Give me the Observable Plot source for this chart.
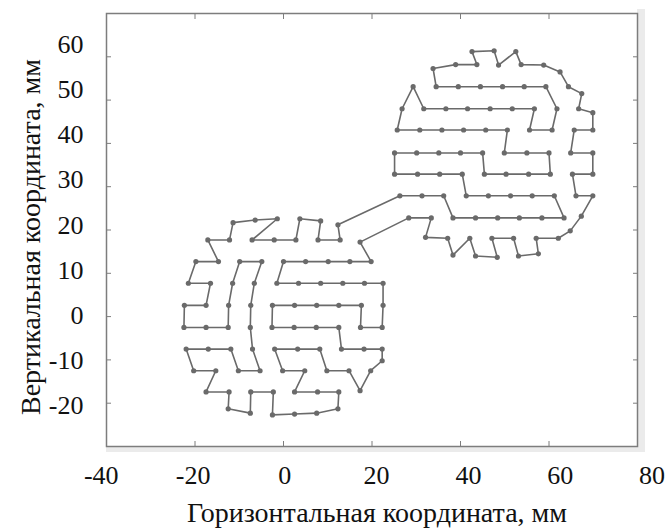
<!DOCTYPE html>
<html>
<head>
<meta charset="utf-8">
<script src="https://cdn.jsdelivr.net/npm/d3@7"></script>
<script src="https://cdn.jsdelivr.net/npm/@observablehq/plot@0.6"></script>
<style>
  html, body { margin: 0; padding: 0; background: #fff; }
  svg text { font-family: "Liberation Serif", "Times New Roman", serif; }
</style>
</head>
<body>
<div id="chart"></div>
<script>
// Lower (left) circular region, in path order
const lowerX = [12.3, 12.8, 7.8, 8.4, 3.7, 2.8, -2.1, -7.1, -1.4, -6.4,
  -11.4, -12.2, -17.1, -14.7, -19.8, -21.5, -16.5, -17.5, -22.4, -22.5,
  -17.5, -12.5, -12.4, -11.5, -9.9, -4.9, -6.6, -7.4, -7.5, -7.0,
  -5.3, -10.2, -11.9, -17.0, -22.0, -20.3, -15.3, -17.5, -12.3, -12.5,
  -7.5, -7.4, -2.3, -2.5, 2.5, 7.5, 12.3, 12.5, 7.7, 2.5,
  4.8, -0.2, -2.0, 3.2, 8.2, 9.8, 14.8, 17.3, 19.7, 22.3,
  22.3, 18.2, 13.1, 12.5, 7.4, 2.4, -2.6, -2.5, 2.5, 7.5,
  12.5, 17.6, 17.4, 22.3, 22.5, 22.5, 18.3, 13.4, 8.4, 3.4,
  -1.5, 0.0, 5.0, 10.1, 15.0, 19.8, 17.3];
const lowerY = [21.2, 17.7, 17.7, 22.1, 22.6, 17.7, 17.7, 17.7, 22.6, 22.3,
  21.7, 17.7, 17.7, 12.7, 12.7, 7.7, 7.7, 2.6, 2.6, -2.5,
  -2.5, -2.5, 2.6, 7.7, 12.7, 12.7, 7.7, 2.6, -2.5, -7.5,
  -12.5, -12.5, -7.5, -7.5, -7.5, -12.5, -12.5, -17.4, -17.4, -21.3,
  -22.3, -17.4, -17.4, -22.7, -22.5, -22.3, -21.3, -17.4, -17.4, -17.4,
  -12.5, -12.5, -7.5, -7.5, -7.5, -12.5, -12.5, -17.1, -12.5, -10.2,
  -7.5, -7.5, -7.5, -2.5, -2.5, -2.5, -2.5, 2.6, 2.6, 2.6,
  2.6, 2.6, -2.5, -2.5, 2.6, 7.7, 7.7, 7.7, 7.7, 7.7,
  7.7, 12.7, 12.7, 12.7, 12.7, 12.7, 17.2];

// Upper (right) circular region, in path order (from upper bridge end)
const upperX = [26.3, 31.3, 36.2, 38.3, 43.4, 48.4, 53.3, 58.4, 63.4, 61.2,
  56.2, 51.3, 46.3, 41.3, 40.4, 35.3, 30.3, 25.1, 25.1, 30.1,
  35.1, 40.0, 45.0, 45.4, 50.3, 55.4, 60.3, 60.0, 55.0, 49.9,
  50.6, 45.7, 40.7, 35.8, 30.8, 25.7, 26.8, 29.3, 31.7, 36.7,
  41.6, 46.7, 51.7, 56.7, 55.6, 60.7, 61.8, 59.3, 54.4, 49.5,
  44.5, 39.5, 34.5, 33.8, 38.9, 43.7, 42.6, 47.6, 48.6, 52.5,
  53.7, 58.8, 62.5, 64.4, 67.4, 66.7, 69.9, 69.9, 65.7, 64.9,
  69.9, 69.9, 65.3, 66.1, 69.9, 67.3, 64.8, 62.1, 57.1, 57.6,
  53.1, 52.0, 47.1, 48.3, 43.4, 42.1, 38.3, 37.1, 32.1, 33.4, 28.3];
const upperY = [27.9, 27.9, 27.9, 22.8, 22.8, 22.8, 22.8, 22.8, 22.8, 27.9,
  27.9, 27.9, 27.9, 27.9, 32.9, 32.9, 32.9, 32.9, 37.8, 37.8,
  37.8, 37.8, 37.8, 32.9, 32.9, 32.9, 32.9, 37.8, 37.8, 37.8,
  43.1, 43.1, 43.1, 43.1, 43.1, 43.1, 48.0, 53.1, 48.0, 48.0,
  48.0, 48.0, 48.0, 48.0, 43.1, 43.1, 48.0, 53.1, 53.1, 53.1,
  53.1, 53.1, 53.1, 57.3, 58.2, 58.2, 61.2, 61.4, 58.1, 61.2,
  58.2, 58.1, 56.5, 53.1, 51.5, 48.0, 47.1, 43.1, 43.1, 37.8,
  37.8, 32.9, 32.9, 27.9, 27.9, 23.2, 19.8, 18.1, 18.1, 14.5,
  14.0, 18.1, 18.1, 13.7, 14.0, 18.1, 14.2, 18.1, 18.3, 22.8, 22.8];

const xTickMarks = [-20, 0, 20, 40, 60];
const xTickLabels = [-40, -20, 0, 20, 40, 60, 80];
const yTicks = [-20, -10, 0, 10, 20, 30, 40, 50, 60];
const xTitle = "Горизонтальная координата, мм";
const yTitle = "Вертикальная координата, мм";

// Build one closed path: lower region, bridge, upper region (reversed), bridge back
const lowerPts = lowerX.map((x, i) => ({x, y: lowerY[i]}));
const upperPts = upperX.map((x, i) => ({x, y: upperY[i]}));
const pathPts = [...lowerPts, ...upperPts.slice().reverse(), lowerPts[0]];
const allPts = [...lowerPts, ...upperPts];

const gray = "#6a6a6a";
const frameGray = "#7d7d7d";
const font = "'Liberation Serif', 'Times New Roman', serif";

const svg = Plot.plot({
  width: 667,
  height: 528,
  marginLeft: 106,
  marginRight: 30,
  marginTop: 13,
  marginBottom: 82,
  style: {fontFamily: font, background: "#fff", color: "#111"},
  x: {domain: [-40, 80], axis: null},
  y: {domain: [-30, 70], axis: null},
  marks: [
    Plot.frame({stroke: frameGray, strokeWidth: 1.5}),
    // inward tick marks on all four sides
    Plot.axisX(xTickMarks, {anchor: "bottom", tickSize: 5, dy: -5, tickFormat: () => "", stroke: frameGray, label: null}),
    Plot.axisX(xTickMarks, {anchor: "top", tickSize: 5, dy: 5, tickFormat: () => "", stroke: frameGray, label: null}),
    Plot.axisY(yTicks, {anchor: "left", tickSize: 5, dx: 5, tickFormat: () => "", stroke: frameGray, label: null}),
    Plot.axisY(yTicks, {anchor: "right", tickSize: 5, dx: -5, tickFormat: () => "", stroke: frameGray, label: null}),
    // tick labels
    Plot.text(xTickLabels, {x: d => d * 1.037 + 0.3, text: d => String(d), frameAnchor: "bottom",
      lineAnchor: "top", dy: 19, fontSize: 26, fontFamily: font, fill: "#111"}),
    Plot.text(yTicks, {y: d => d * 1.043 + 0.23, text: d => String(d), frameAnchor: "left",
      textAnchor: "end", dx: -23, fontSize: 26, fontFamily: font, fill: "#111"}),
    // axis titles
    Plot.text([xTitle], {text: d => d, frameAnchor: "bottom", textAnchor: "middle", lineAnchor: "bottom",
      dx: 5, dy: 75, fontSize: 28, fontFamily: font, fill: "#111"}),
    Plot.text([yTitle], {text: d => d, frameAnchor: "left", textAnchor: "middle", rotate: -90,
      lineAnchor: "middle", dx: -75, dy: 7, fontSize: 28, fontFamily: font, fill: "#111"}),
    // path and points
    Plot.line(pathPts, {x: "x", y: "y", stroke: gray, strokeWidth: 1.6, curve: "linear"}),
    Plot.dot(allPts, {x: "x", y: "y", r: 2.6, fill: gray, stroke: "none"})
  ]
});

// light gray shadow along the right and bottom of the frame
const sel = d3.select(svg);
const g = sel.insert("g", ":first-child");
g.append("rect").attr("x", 637).attr("y", 9).attr("width", 8).attr("height", 443).attr("fill", "#ebebeb");
g.append("rect").attr("x", 106).attr("y", 446).attr("width", 539).attr("height", 6).attr("fill", "#ebebeb");

document.getElementById("chart").appendChild(svg);
</script>
</body>
</html>
